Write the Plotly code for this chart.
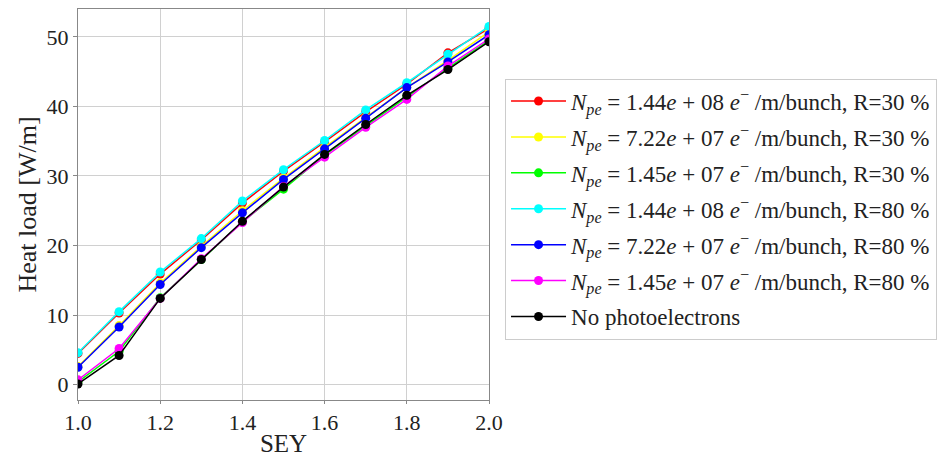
import plotly.graph_objects as go

sey = [1.0, 1.1, 1.2, 1.3, 1.4, 1.5, 1.6, 1.7, 1.8, 1.9, 2.0]

red_1p44e8_r30 = [4.5, 10.3, 15.9, 20.8, 26.1, 30.7, 34.9, 39.2, 43.2, 47.7, 51.2]
yellow_7p22e7_r30 = [2.6, 8.5, 14.6, 19.9, 25.0, 29.7, 34.1, 38.4, 42.7, 46.6, 50.7]
green_1p45e7_r30 = [0.4, 4.8, 12.5, 18.0, 23.4, 28.1, 33.0, 37.2, 41.4, 45.5, 49.5]
cyan_1p44e8_r80 = [4.6, 10.5, 16.2, 21.0, 26.4, 30.9, 35.1, 39.5, 43.4, 47.5, 51.5]
blue_7p22e7_r80 = [2.5, 8.3, 14.4, 19.7, 24.7, 29.5, 33.9, 38.3, 42.7, 46.4, 50.3]
magenta_1p45e7_r80 = [0.7, 5.2, 12.4, 18.1, 23.3, 28.5, 32.7, 37.0, 41.0, 45.8, 49.7]
black_no_pe = [0.1, 4.2, 12.4, 18.0, 23.5, 28.4, 33.1, 37.4, 41.6, 45.3, 49.3]

labels = [
    "<i>N<sub>pe</sub></i> = 1.44<i>e</i> + 08 <i>e</i><sup>−</sup> /m/bunch, R=30 %",
    "<i>N<sub>pe</sub></i> = 7.22<i>e</i> + 07 <i>e</i><sup>−</sup> /m/bunch, R=30 %",
    "<i>N<sub>pe</sub></i> = 1.45<i>e</i> + 07 <i>e</i><sup>−</sup> /m/bunch, R=30 %",
    "<i>N<sub>pe</sub></i> = 1.44<i>e</i> + 08 <i>e</i><sup>−</sup> /m/bunch, R=80 %",
    "<i>N<sub>pe</sub></i> = 7.22<i>e</i> + 07 <i>e</i><sup>−</sup> /m/bunch, R=80 %",
    "<i>N<sub>pe</sub></i> = 1.45<i>e</i> + 07 <i>e</i><sup>−</sup> /m/bunch, R=80 %",
    "No photoelectrons",
]
series = [red_1p44e8_r30, yellow_7p22e7_r30, green_1p45e7_r30, cyan_1p44e8_r80,
          blue_7p22e7_r80, magenta_1p45e7_r80, black_no_pe]
colors = ["#ff0000", "#ffff00", "#00ff00", "#00ffff", "#0000ff", "#ff00ff", "#000000"]

font_family = "Liberation Serif, DejaVu Serif, serif"

fig = go.Figure()
for i, (name, ys, c) in enumerate(zip(labels, series, colors)):
    fig.add_trace(go.Scatter(
        x=sey, y=ys, name=name, mode="lines+markers",
        legendgroup="g%d" % i,
        line=dict(color=c, width=1.5),
        marker=dict(color=c, size=9),
    ))

fig.update_layout(
    width=951, height=461,
    margin=dict(l=78, r=462, t=8, b=59),
    paper_bgcolor="white", plot_bgcolor="white",
    font=dict(family=font_family, size=20, color="#222"),
    showlegend=True,
    legend=dict(
        x=1.039, y=0.822, xanchor="left", yanchor="top",
        bordercolor="#cccccc", borderwidth=1,
        font=dict(family=font_family, size=23, color="#222"),
        tracegroupgap=3,
        itemwidth=55,
    ),
    xaxis=dict(
        range=[1.0, 2.0], tickvals=[1.0, 1.2, 1.4, 1.6, 1.8, 2.0],
        ticktext=["1.0", "1.2", "1.4", "1.6", "1.8", "2.0"],
        showgrid=True, gridcolor="#d0d0d0", gridwidth=1,
        showline=True, linecolor="#888888", linewidth=1, mirror=True,
        ticks="outside", ticklen=3, tickcolor="#888888",
        zeroline=False,
        title=dict(text="SEY", font=dict(size=25), standoff=0),
        tickfont=dict(size=22),
    ),
    yaxis=dict(
        range=[-2.2, 54.0], tickvals=[0, 10, 20, 30, 40, 50],
        showgrid=True, gridcolor="#d0d0d0", gridwidth=1,
        showline=True, linecolor="#888888", linewidth=1, mirror=True,
        ticks="outside", ticklen=4, tickcolor="#888888",
        zeroline=False,
        title=dict(text="Heat load [W/m]", font=dict(size=26), standoff=2),
        tickfont=dict(size=22),
    ),
)

fig.write_html("out.html", config={"displayModeBar": False},
               post_script="document.body.style.margin='0';")
